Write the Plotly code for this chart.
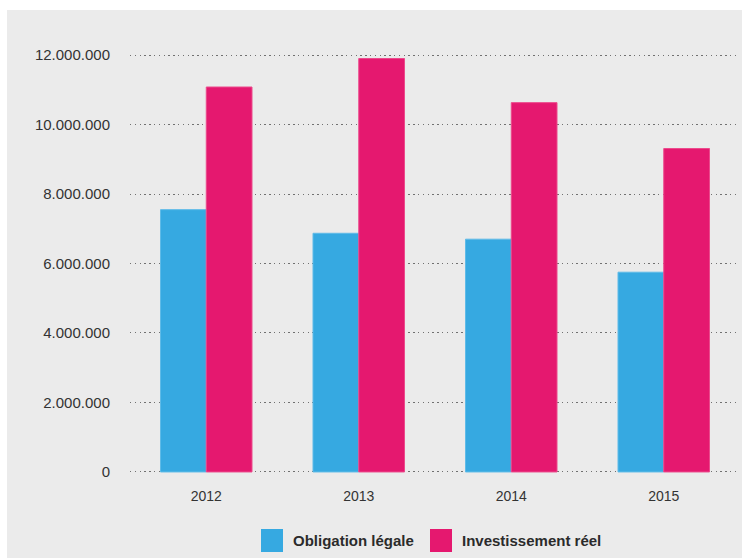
import plotly.graph_objects as go

years = ["2012", "2013", "2014", "2015"]
obligation_legale = [7550000, 6870000, 6700000, 5750000]
investissement_reel = [11080000, 11900000, 10630000, 9310000]
series_names = ["Obligation légale", "Investissement réel"]
y_ticks = [0, 2000000, 4000000, 6000000, 8000000, 10000000, 12000000]

BLUE = "#36a9e1"
PINK = "#e5186f"
W, H = 742, 559
L, R, T, B = 130, 2, 54, 86
PW, PH = W - L - R, H - T - B

def px_x(x):
    return (x - L) / PW

def px_y(y):
    return (H - B - y) / PH

FONT = "Liberation Sans Narrow, Arial Narrow, Liberation Sans, Arial, sans-serif"

fig = go.Figure()
fig.add_trace(go.Bar(x=years, y=obligation_legale, name=series_names[0],
                     marker=dict(color=BLUE, line=dict(color="#5fbbe8", width=1))))
fig.add_trace(go.Bar(x=years, y=investissement_reel, name=series_names[1],
                     marker=dict(color=PINK, line=dict(color="#ec4a8c", width=1))))

shapes = [
    dict(type="rect", xref="paper", yref="paper", layer="below",
         x0=px_x(7), x1=px_x(745), y0=px_y(558), y1=px_y(10),
         fillcolor="#ebebeb", line=dict(width=0)),
]
annotations = []
legend_items = [(series_names[0], BLUE, 261, 291), (series_names[1], PINK, 430, 460)]
for name, col, sx, tx in legend_items:
    shapes.append(dict(type="rect", xref="paper", yref="paper",
                       x0=px_x(sx), x1=px_x(sx + 22), y0=px_y(552), y1=px_y(529),
                       fillcolor=col, line=dict(width=0)))
    annotations.append(dict(text=name, xref="paper", yref="paper", x=px_x(tx), y=px_y(540.5),
                            xanchor="left", yanchor="middle", showarrow=False,
                            font=dict(family=FONT, size=15, color="#2b2b2b", weight=600)))

fig.update_layout(
    width=W, height=H,
    margin=dict(l=L, r=R, t=T, b=B, autoexpand=False),
    paper_bgcolor="white",
    plot_bgcolor="rgba(0,0,0,0)",
    separators=",.",
    barmode="group",
    bargap=0.4,
    bargroupgap=0,
    showlegend=False,
    shapes=shapes,
    annotations=annotations,
    font=dict(family=FONT, color="#333333"),
)
fig.update_xaxes(showgrid=False, showline=False, zeroline=False,
                 ticks="outside", ticklen=10, tickcolor="rgba(0,0,0,0)",
                 tickfont=dict(size=14, color="#333333"))
fig.update_yaxes(range=[-30000, 12030000], tickvals=y_ticks, tickformat=",d",
                 showgrid=True, gridcolor="#707070", gridwidth=1.3, griddash="1.3px,3.5px",
                 zeroline=False, showline=False,
                 ticks="outside", ticklen=16, tickcolor="rgba(0,0,0,0)",
                 tickfont=dict(size=15, color="#333333"))

fig.write_html("out.html", config={"displayModeBar": False},
               post_script="document.body.style.margin='0';")
